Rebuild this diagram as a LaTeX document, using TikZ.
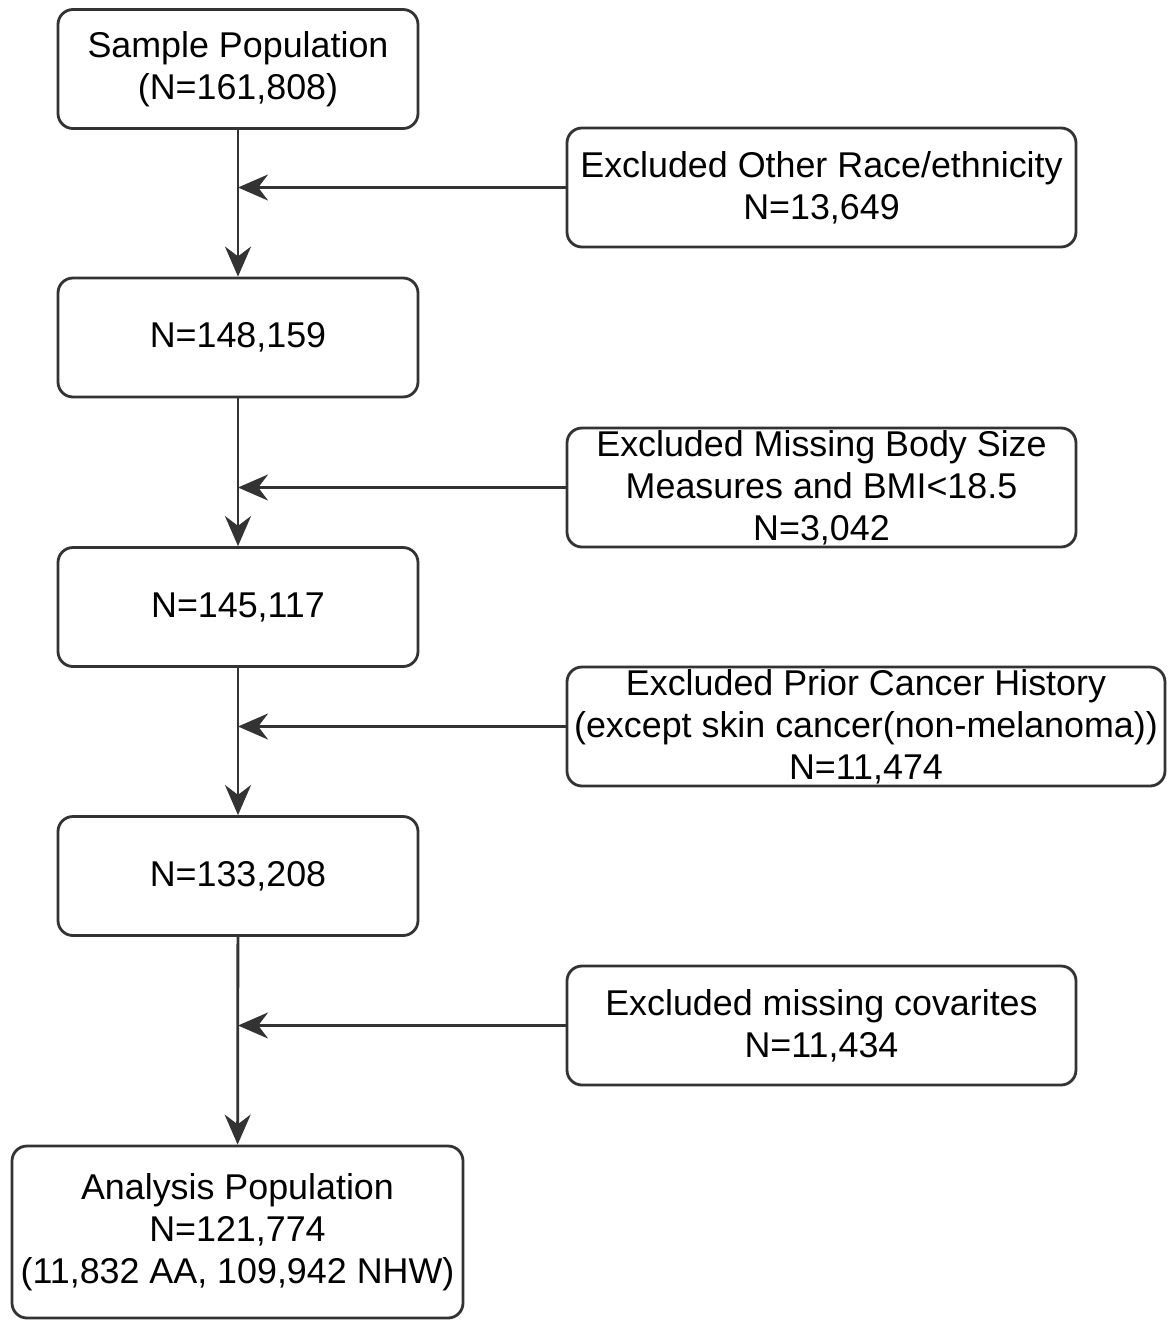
\documentclass[tikz,border=0pt]{standalone}
\usepackage{fontspec}
\setmainfont{Liberation Sans}
\usetikzlibrary{shapes.geometric, arrows.meta}
\definecolor{linegray}{RGB}{51,51,51}
\tikzstyle{block} = [rectangle, rounded corners=0.15cm, minimum width=3.6cm, minimum height=1.19cm, text centered, align=center, draw=linegray, line width=0.8pt, font=\fontsize{10.2}{12}\selectfont, inner sep=0pt]
\tikzstyle{excl} = [block, minimum width=5.09cm]
\tikzstyle{arrow} = [line width=0.8pt, draw=linegray, -{Stealth[length=3mm, width=2.6mm]}]

\begin{document}
\begin{tikzpicture}
\useasboundingbox (0,0) rectangle (11.69,-13.21);

\node (sample) [block] at (2.38,-0.69) {Sample Population\\(N=161,808)};
\node (n148) [block] at (2.38,-3.375) {N=148,159};
\node (n145) [block] at (2.38,-6.07) {N=145,117};
\node (n133) [block] at (2.38,-8.76) {N=133,208};
\node (analysis) [block, minimum width=4.51cm, minimum height=1.72cm] at (2.375,-12.32) {Analysis Population\\N=121,774\\(11,832 AA, 109,942 NHW)};

\node (race) [excl] at (8.215,-1.875) {Excluded Other Race/ethnicity\\N=13,649};
\node (bodysize) [excl] at (8.215,-4.875) {Excluded Missing Body Size\\Measures and BMI<18.5\\N=3,042};
\node (cancer) [excl, minimum width=5.98cm] at (8.66,-7.265) {Excluded Prior Cancer History\\(except skin cancer(non-melanoma))\\N=11,474};
\node (covar) [excl] at (8.215,-10.255) {Excluded missing covarites\\N=11,434};

\draw [arrow] (sample) -- (n148);
\draw [arrow] (n148) -- (n145);
\draw [arrow] (n145) -- (n133);
\draw [arrow] (n133) -- (analysis);

\draw [arrow] (race.west) -- (race.west -| sample.south);
\draw [arrow] (bodysize.west) -- (bodysize.west -| sample.south);
\draw [arrow] (cancer.west) -- (cancer.west -| sample.south);
\draw [arrow] (covar.west) -- (covar.west -| sample.south);

\end{tikzpicture}
\end{document}
